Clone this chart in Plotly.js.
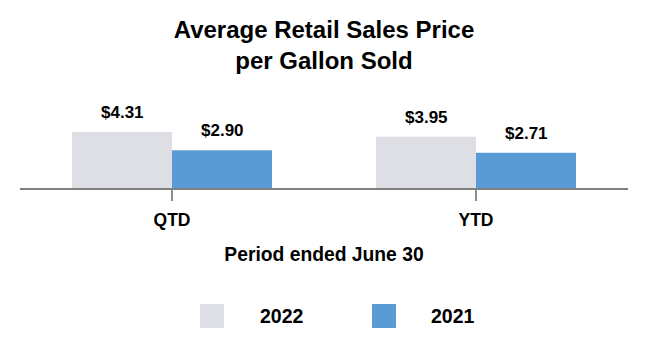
<!DOCTYPE html>
<html>
<head>
<meta charset="utf-8">
<script src="https://cdn.plot.ly/plotly-3.0.1.min.js"></script>
<style>html,body{margin:0;padding:0;background:#fff;}#chart{width:648px;height:360px;}</style>
</head>
<body>
<div id="chart"></div>
<script>
const categories = ['QTD', 'YTD'];
const seriesNames = ['2022', '2021'];
const values2022 = [4.31, 3.95];
const values2021 = [2.90, 2.71];
const seriesColors = ['#DEDFE4', '#5B9BD5'];
const chartTitle = 'Average Retail Sales Price<br>per Gallon Sold';
const xTitle = 'Period ended June 30';

const W = 648, H = 360;
const M = {l: 20, r: 20, t: 100, b: 172};
const plotW = W - M.l - M.r, plotH = H - M.t - M.b;
const pxX = p => (p - M.l) / plotW;
const pxY = p => (H - M.b - p) / plotH;
const FONT = 'Liberation Sans, Arial, sans-serif';

const seriesValues = [values2022, values2021];
const traces = seriesNames.map((name, i) => ({
  type: 'bar',
  name: name,
  x: categories,
  y: seriesValues[i],
  marker: {color: seriesColors[i]},
  showlegend: false,
  hoverinfo: 'skip'
}));

const annotations = [];
seriesValues.forEach((vals, i) => {
  vals.forEach((v, j) => {
    annotations.push({
      xref: 'x', yref: 'y', x: categories[j], y: v,
      xshift: i === 0 ? -50 : 50, yshift: 8,
      yanchor: 'bottom', showarrow: false,
      text: '$' + v.toFixed(2),
      font: {family: FONT, size: 17, color: '#000', weight: 700}
    });
  });
});

// custom legend
const shapes = [];
const legendSquares = [200, 372];
const legendText = [281.5, 453];
seriesNames.forEach((name, i) => {
  shapes.push({
    type: 'rect', xref: 'paper', yref: 'paper',
    x0: pxX(legendSquares[i]), x1: pxX(legendSquares[i] + 24),
    y0: pxY(328), y1: pxY(304),
    fillcolor: seriesColors[i], line: {width: 0}
  });
  annotations.push({
    xref: 'paper', yref: 'paper', x: pxX(legendText[i]), y: pxY(316),
    xanchor: 'center', yanchor: 'middle', showarrow: false,
    text: name,
    font: {family: FONT, size: 19.5, color: '#000', weight: 700}
  });
});

const layout = {
  width: W, height: H,
  margin: M,
  paper_bgcolor: '#fff', plot_bgcolor: '#fff',
  font: {family: FONT, color: '#000', weight: 700},
  title: {
    text: chartTitle,
    x: 0.5, xanchor: 'center',
    yref: 'container', y: 1 - 38 / H, yanchor: 'top',
    font: {family: FONT, size: 24, color: '#000', weight: 700}
  },
  barmode: 'group',
  bargap: 0.342,
  bargroupgap: 0,
  xaxis: {
    type: 'category',
    range: [-0.5, 1.5],
    showline: true, linecolor: '#808080', linewidth: 2,
    ticks: 'outside', ticklen: 11, tickwidth: 1.5, tickcolor: '#8c8c8c',
    ticklabelstandoff: 4,
    showgrid: false, zeroline: false,
    tickfont: {family: FONT, size: 17.5, color: '#000', weight: 700},
    title: {text: xTitle, standoff: 18, font: {family: FONT, size: 19.3, color: '#000', weight: 700}},
    fixedrange: true
  },
  yaxis: {
    visible: false, range: [0, 6.77], fixedrange: true
  },
  annotations: annotations,
  shapes: shapes
};

Plotly.newPlot('chart', traces, layout, {displayModeBar: false, staticPlot: true});
</script>
</body>
</html>
